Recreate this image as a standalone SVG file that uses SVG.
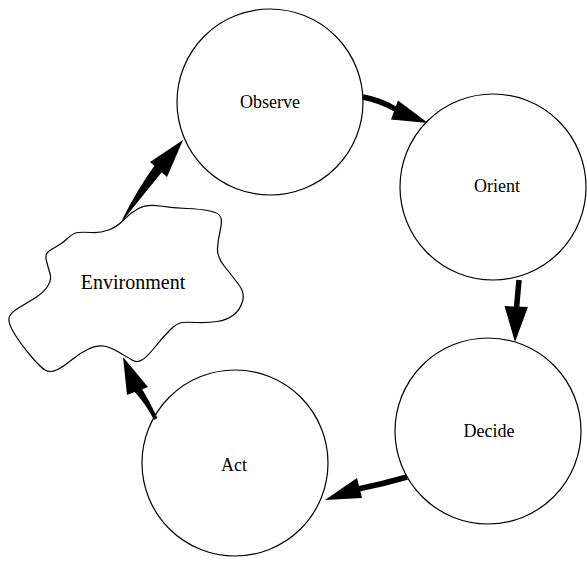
<svg xmlns="http://www.w3.org/2000/svg" width="587" height="561" viewBox="0 0 587 561">
<style>
.node{fill:#fff;stroke:#000;stroke-width:1.2}
.lbl{font-family:"Liberation Serif","Times New Roman",serif;font-size:18px;fill:#000;text-anchor:middle}
.shaft{fill:none;stroke:#000;stroke-width:5.5}
.head{fill:#000;stroke:none}
</style>
<rect width="587" height="561" fill="#fff"/>
<g id="observe"><circle class="node" cx="270" cy="102" r="93"/><text class="lbl" x="270" y="108">Observe</text></g>
<g id="orient"><circle class="node" cx="493" cy="187" r="93"/><text class="lbl" x="497" y="192">Orient</text></g>
<g id="decide"><circle class="node" cx="488" cy="431" r="93"/><text class="lbl" x="489" y="437">Decide</text></g>
<g id="act"><circle class="node" cx="235" cy="463" r="93"/><text class="lbl" x="234" y="471">Act</text></g>
<g id="environment"><path class="node" d="M123.5,220 Q130,213 138.5,208.5 Q147,204 160,206 Q173,208 186.5,208.5 Q200,209 210,211 Q220,213 221,218 Q222,223 220,231.5 Q218,240 217.5,248.5 Q217,257 225,267 Q233,277 239,285 Q245,293 242.5,301.5 Q240,310 233.5,315 Q227,320 217,321.5 Q207,323 197,322.5 Q187,322 182,322.5 Q177,323 170,330 Q163,337 155,347 Q147,357 142,360 Q137,363 132,360 Q127,357 118.5,352 Q110,347 103.5,346 Q97,345 88.5,349 Q80,353 71.5,360 Q63,367 56.5,370 Q50,373 45,370 Q40,367 30,355 Q20,343 14,333 Q8,323 9,318 Q10,313 18.5,308 Q27,303 35,298 Q43,293 47.5,286.5 Q52,280 50,273.5 Q48,267 46.5,261 Q45,255 47.5,252.5 Q50,250 56.5,246.5 Q63,243 68,238 Q73,233 78,232.5 Q83,232 91.5,232.5 Q100,233 108.5,230 Q117,227 123.5,220 Z"/><text class="lbl" x="133" y="289" style="font-size:20px">Environment</text></g>
<g id="connectors">
<path class="shaft" d="M363,97 Q380,100 397,110"/>
<polygon class="head" points="428,123 398,100.5 391,119.5"/>
<path class="shaft" d="M519,280 L516.5,308"/>
<polygon class="head" points="515,342 504.5,306 528,307"/>
<path class="shaft" d="M407,477 Q383,484 358,489"/>
<polygon class="head" points="325,500 357,478 362,498"/>
<path class="head" d="M154,420 Q146,404 133,390 L141,387 Q150,402 157.5,418 Z"/>
<polygon class="head" points="123,357 127,395 148,387"/>
<path class="head" d="M122,220 Q138,188 155,165 L162,172 Q144,194 124,219 Z"/>
<polygon class="head" points="183,140 150,162 167,177"/>
</g>
</svg>
